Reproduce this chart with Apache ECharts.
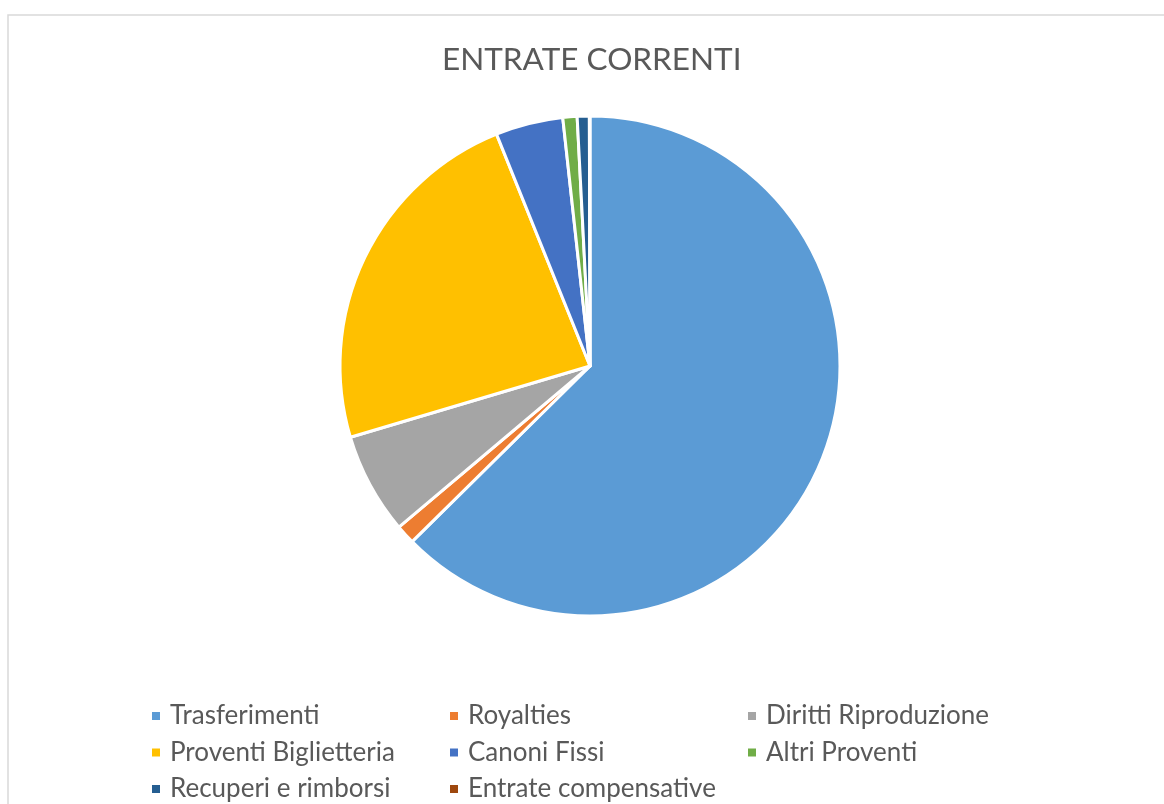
<!DOCTYPE html>
<html>
<head>
<meta charset="utf-8">
<title>Entrate correnti</title>
<script src="https://cdn.jsdelivr.net/npm/echarts@6/dist/echarts.min.js"></script>
<style>
  html, body { margin: 0; padding: 0; background: #fff; }
  #chart { width: 1164px; height: 804px; }
</style>
</head>
<body>
<div id="chart"></div>
<script>
// categories and values (share in %)
const categories = [
  'Trasferimenti', 'Royalties', 'Diritti Riproduzione', 'Proventi Biglietteria',
  'Canoni Fissi', 'Altri Proventi', 'Recuperi e rimborsi', 'Entrate compensative'
];
const values = [62.6, 1.25, 6.55, 23.5, 4.36, 0.92, 0.78, 0.04];
const colors = ['#5B9BD5', '#ED7D31', '#A5A5A5', '#FFC000', '#4472C4', '#70AD47', '#255E91', '#9E480E'];

// legend rows, three per row as in the picture
const legendRows = [categories.slice(0, 3), categories.slice(3, 6), categories.slice(6)];
const rowTop = [701, 737.5, 774];

const chart = echarts.init(document.getElementById('chart'));

const legendRow = (names, top) => ({
  orient: 'horizontal',
  left: 150,
  top: top,
  padding: 0,
  data: names,
  icon: 'rect',
  itemWidth: 10,
  itemHeight: 10,
  itemGap: 1,
  selectedMode: false,
  textStyle: {
    fontFamily: 'Lato',
    fontSize: 26,
    color: '#595959',
    lineHeight: 30,
    width: 277,
    overflow: 'none',
    padding: [0, 0, 0, 4]
  }
});

chart.setOption({
  animation: false,
  color: colors,
  title: {
    text: 'ENTRATE CORRENTI',
    left: 442,
    top: 44,
    padding: 0,
    textStyle: {
      fontFamily: 'Lato',
      fontSize: 31.5,
      fontWeight: 'normal',
      color: '#595959'
    }
  },
  graphic: [{
    type: 'rect',
    shape: { x: 8, y: 15, width: 1200, height: 820 },
    style: { fill: 'none', stroke: '#d9d9d9', lineWidth: 1.5 },
    silent: true
  }],
  legend: legendRows.map((r, i) => legendRow(r, rowTop[i])),
  series: [{
    type: 'pie',
    center: [590, 366],
    radius: 250,
    startAngle: 90,
    clockwise: true,
    label: { show: false },
    labelLine: { show: false },
    emphasis: { disabled: true },
    itemStyle: { borderColor: '#fff', borderWidth: 3 },
    data: categories.map((name, i) => ({ name: name, value: values[i] }))
  }]
});
</script>
</body>
</html>
